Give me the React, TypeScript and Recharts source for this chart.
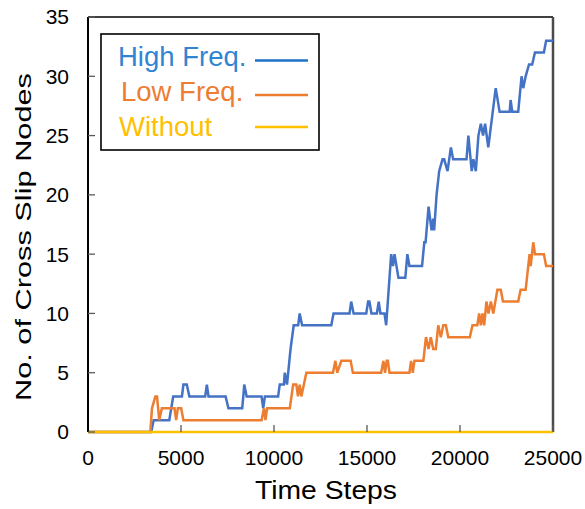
import React from "react";
import { LineChart, Line, XAxis, YAxis, ReferenceLine } from "recharts";

const xTicks = [0, 5000, 10000, 15000, 20000, 25000];
const yTicks = [0, 5, 10, 15, 20, 25, 30, 35];

const highT = [0,3400,3530,4370,4580,5050,5130,5310,5450,6300,6390,6480,7400,7550,8290,8350,8400,8530,9330,9420,9510,10220,10310,10530,10580,10700,10890,11060,11300,11380,11510,13080,13200,14060,14150,14280,14960,15060,15130,15240,15530,15630,15720,15940,16030,16300,16400,16480,16690,17060,17170,17280,17960,18080,18150,18310,18470,18560,18610,18740,18880,19060,19150,19330,19510,19630,20350,20450,20630,20720,20850,20990,21120,21240,21350,21520,21920,22130,22670,22720,22810,23130,23310,23400,23530,23710,23880,24030,24510,24630,25000];
const highV = [0,0,1,1,3,3,4,4,3,3,4,3,3,2,2,3,4,3,3,2,3,3,4,4,5,4,7,9,9,10,9,9,10,10,11,10,10,11,11,10,10,11,10,10,9,15,14,15,13,13,15,14,14,16,16,19,17,18,17,20,22,23,23,22,24,23,23,25,22,23,22,25,26,25,26,24,29,27,27,28,27,27,30,29,30,31,31,32,32,33,33];

const lowT = [0,3350,3440,3620,3710,3830,3970,4650,4740,4830,5010,5130,9330,9460,9540,9630,10850,11030,11200,11290,11380,11470,11740,13170,13300,13400,13620,14120,14240,15760,15880,15970,16060,16120,16210,17280,17370,17460,17550,18030,18170,18310,18430,18560,18700,18830,18970,19100,19240,19370,20530,20670,20930,21030,21120,21210,21300,21420,21530,21660,21790,22010,22190,22310,23130,23260,23530,23740,23800,23940,24030,24510,24630,25000];
const lowV = [0,0,2,3,3,1,2,2,1,2,2,1,1,2,1,2,2,4,4,3,4,3,5,5,6,5,6,6,5,5,6,5,6,6,5,5,6,5,6,6,8,7,8,7,7,9,8,9,9,8,8,9,9,10,9,10,9,11,10,11,10,12,12,11,11,12,12,15,14,16,15,15,14,14];

const withoutT = [0, 25000];
const withoutV = [0, 0];

const seriesNames = ["High Freq.", "Low Freq.", "Without"];
const lineColors = ["#4472C4", "#ED7D31", "#FFC000"];
const legendTextColors = ["#3084D2", "#ED7D31", "#FFC000"];
const legendLineColors = ["#1F72C8", "#ED7D31", "#FFC000"];

const build = (t: number[], v: number[]) => t.map((x, i) => ({ t: x, v: v[i] }));
const highData = build(highT, highV);
const lowData = build(lowT, lowV);
const withoutData = build(withoutT, withoutV);

const FONT = "'Liberation Sans', Arial, sans-serif";

const LegendBox = () => (
  <svg width={222} height={120} style={{ display: "block" }}>
    <rect x={1} y={1} width={218} height={116} fill="#fff" stroke="#000" strokeWidth={1.6} />
    {seriesNames.map((name, i) => (
      <g key={name}>
        <text
          x={[18, 21, 19][i]}
          y={[32.5, 67.5, 102.5][i]}
          fontFamily={FONT}
          fontSize={27.5}
          fill={legendTextColors[i]}
        >
          {name}
        </text>
        <line
          x1={155}
          x2={208}
          y1={[27.5, 62, 94][i]}
          y2={[27.5, 62, 94][i]}
          stroke={legendLineColors[i]}
          strokeWidth={2.5}
        />
      </g>
    ))}
  </svg>
);

export default function App() {
  return (
    <div style={{ position: "absolute", left: 0, top: 0, width: 585, height: 509, background: "#fff" }}>
      <LineChart
        width={585}
        height={509}
        margin={{ top: 17, right: 32, left: 0, bottom: 0 }}
      >
        <XAxis
          dataKey="t"
          type="number"
          domain={[0, 25000]}
          ticks={xTicks}
          allowDuplicatedCategory={false}
          height={77}
          tickSize={-7}
          tickMargin={25}
          tickLine={{ stroke: "#595959", strokeWidth: 1.3 }}
          axisLine={false}
          tick={{ fill: "#000", fontSize: 21, fontFamily: FONT }}
          interval={0}
          label={{
            content: () => (
              <text
                x={326}
                y={499}
                textAnchor="middle"
                fontFamily={FONT}
                fontSize={26.5}
                fill="#000"
                textLength={142}
                lengthAdjust="spacingAndGlyphs"
              >
                Time Steps
              </text>
            ),
          }}
        />
        <YAxis
          type="number"
          domain={[0, 35]}
          ticks={yTicks}
          width={88}
          tickSize={-7}
          tickMargin={26}
          tickLine={{ stroke: "#595959", strokeWidth: 1.3 }}
          axisLine={{ stroke: "#000", strokeWidth: 2 }}
          tick={{ fill: "#000", fontSize: 21, fontFamily: FONT }}
          interval={0}
          label={{
            content: () => (
              <text
                x={31}
                y={237}
                transform="rotate(-90 31 237)"
                textAnchor="middle"
                fontFamily={FONT}
                fontSize={22.5}
                fill="#000"
                textLength={328}
                lengthAdjust="spacingAndGlyphs"
              >
                No. of Cross Slip Nodes
              </text>
            ),
          }}
        />
        <ReferenceLine y={35} stroke="#404040" strokeWidth={2} ifOverflow="visible" />
        <ReferenceLine x={25000} stroke="#4a4a4a" strokeWidth={2.5} ifOverflow="visible" />
        <Line
          data={highData}
          dataKey="v"
          name={seriesNames[0]}
          type="linear"
          stroke={lineColors[0]}
          strokeWidth={2.5}
          dot={false}
          isAnimationActive={false}
        />
        <Line
          data={lowData}
          dataKey="v"
          name={seriesNames[1]}
          type="linear"
          stroke={lineColors[1]}
          strokeWidth={2.5}
          dot={false}
          isAnimationActive={false}
        />
        <Line
          data={withoutData}
          dataKey="v"
          name={seriesNames[2]}
          type="linear"
          stroke={lineColors[2]}
          strokeWidth={2.5}
          dot={false}
          isAnimationActive={false}
        />
      </LineChart>
      <div style={{ position: "absolute", left: 100, top: 33 }}>
        <LegendBox />
      </div>
    </div>
  );
}
